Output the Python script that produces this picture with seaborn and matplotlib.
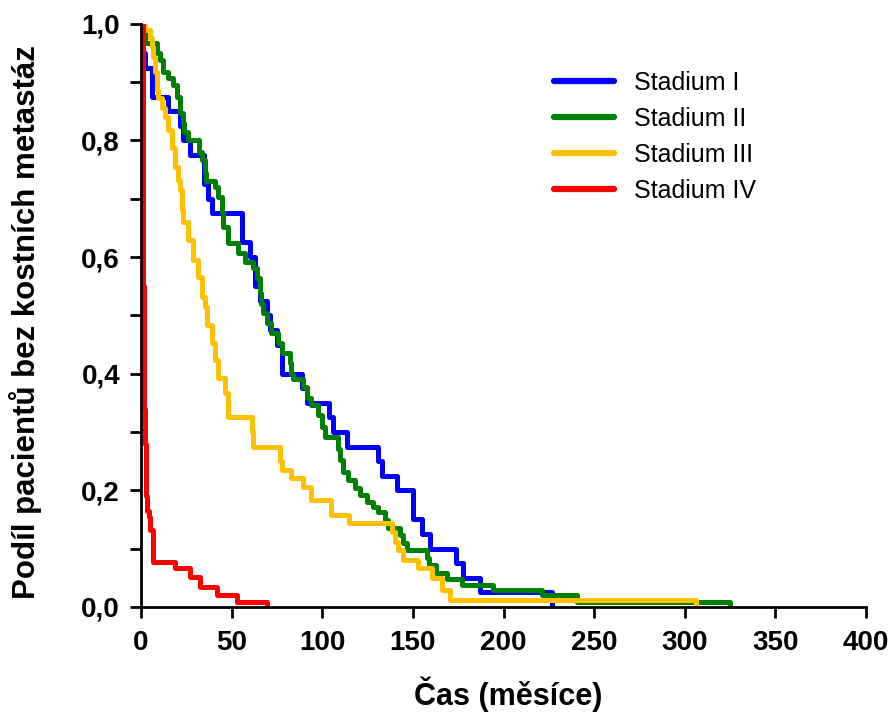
import pandas as pd
import seaborn as sns
import matplotlib.pyplot as plt

# Kaplan-Meier step data (cas = months, podil = fraction without bone metastases)
cas_I = [0, 1, 2, 6, 15, 21.5, 23, 27, 35, 37, 39, 56, 60, 63, 65.5, 69.5, 71, 75, 78, 89,
         91.5, 104, 106, 113.5, 131, 133, 141, 150, 155, 159.5, 174, 177.5, 187, 226.7]
podil_I = [1.0, 0.95, 0.925, 0.875, 0.85, 0.825, 0.8, 0.775, 0.725, 0.7, 0.675, 0.625, 0.6, 0.55,
           0.525, 0.5, 0.475, 0.45, 0.4, 0.375, 0.35, 0.325, 0.3, 0.275, 0.25, 0.225, 0.2, 0.15,
           0.125, 0.1, 0.075, 0.05, 0.025, 0.0]

cas_II = [0, 1, 2.5, 8.8, 10.5, 12, 15, 17.7, 19.8, 21.5, 23, 24, 26, 32, 33.6, 35.3, 36, 40.8,
          42.5, 44.7, 45.5, 48, 53.5, 57.4, 62, 64, 65.6, 66.5, 67.3, 69.5, 72, 75.6, 77.8, 82, 83,
          84, 89.4, 91.6, 94, 97.6, 99.6, 101.5, 108.7, 110, 111.5, 114, 118, 121, 124.7, 128,
          130.8, 134.6, 136, 143, 144.6, 146.8, 157.8, 159, 163, 169, 177, 194.4, 221, 240.5, 325]
podil_II = [1.0, 0.985, 0.967, 0.95, 0.938, 0.918, 0.907, 0.895, 0.875, 0.847, 0.83, 0.815, 0.8,
            0.78, 0.767, 0.745, 0.73, 0.72, 0.703, 0.678, 0.652, 0.624, 0.607, 0.592, 0.581, 0.564,
            0.539, 0.52, 0.504, 0.487, 0.47, 0.453, 0.436, 0.418, 0.4, 0.39, 0.377, 0.358, 0.346,
            0.329, 0.309, 0.292, 0.27, 0.252, 0.232, 0.218, 0.204, 0.192, 0.18, 0.172, 0.163, 0.149,
            0.135, 0.124, 0.11, 0.098, 0.083, 0.072, 0.058, 0.047, 0.038, 0.029, 0.021, 0.008, 0.0]

cas_III = [0, 2.5, 5, 6, 6.6, 7.7, 8.8, 9.4, 11.6, 13, 15, 17, 18.8, 20.4, 21.5, 22.6, 23.2, 26,
           28.7, 31.4, 33.6, 35.3, 36.4, 39, 40.8, 42.5, 46.3, 48, 61, 62, 76.7, 78, 83, 89.4, 94,
           105, 115, 138.5, 140, 142, 144.6, 152.8, 160.5, 166, 170.5, 306]
podil_III = [1.0, 0.99, 0.976, 0.96, 0.943, 0.918, 0.887, 0.873, 0.856, 0.84, 0.818, 0.787, 0.755,
             0.732, 0.715, 0.68, 0.66, 0.63, 0.595, 0.566, 0.532, 0.515, 0.484, 0.453, 0.424, 0.393,
             0.367, 0.326, 0.3, 0.274, 0.25, 0.235, 0.221, 0.206, 0.183, 0.158, 0.144, 0.129, 0.111,
             0.098, 0.081, 0.067, 0.05, 0.029, 0.012, 0.0]

cas_IV = [0, 1.0, 1.3, 1.6, 1.9, 2.2, 2.6, 3.0, 3.5, 4.2, 5, 6.6, 18.8, 27, 32.5, 42, 53, 69.5]
podil_IV = [1.0, 0.75, 0.55, 0.42, 0.34, 0.28, 0.23, 0.19, 0.165, 0.154, 0.132, 0.077, 0.067, 0.051,
            0.034, 0.021, 0.009, 0.0]

stadia = ['Stadium I', 'Stadium II', 'Stadium III', 'Stadium IV']
barvy = ['#0000FF', '#008000', '#FFC000', '#FF0000']

x_ticks = [0, 50, 100, 150, 200, 250, 300, 350, 400]
y_ticks = [0.0, 0.2, 0.4, 0.6, 0.8, 1.0]
y_labels = ['0,0', '0,2', '0,4', '0,6', '0,8', '1,0']

sns.set_style('ticks')
plt.rcParams['font.family'] = ['Liberation Sans', 'DejaVu Sans']
plt.rcParams['text.color'] = 'black'
plt.rcParams['axes.labelcolor'] = 'black'
plt.rcParams['xtick.color'] = 'black'
plt.rcParams['ytick.color'] = 'black'

frames = []
for name, t, p in zip(stadia, [cas_I, cas_II, cas_III, cas_IV],
                      [podil_I, podil_II, podil_III, podil_IV]):
    frames.append(pd.DataFrame({'cas': t, 'podil': p, 'stadium': name}))
df = pd.concat(frames, ignore_index=True)

fig = plt.figure(figsize=(8.92, 7.19), dpi=100)
ax = fig.add_axes([0.158, 0.156, 0.813, 0.8108])

sns.lineplot(data=df, x='cas', y='podil', hue='stadium', hue_order=stadia,
             palette=barvy, estimator=None, sort=False, drawstyle='steps-post',
             linewidth=3.6, ax=ax)

ax.set_xlim(0, 400)
ax.set_ylim(0, 1.0)
ax.set_xticks(x_ticks)
ax.set_xticklabels([str(v) for v in x_ticks])
ax.set_yticks(y_ticks)
ax.set_yticklabels(y_labels)
ax.set_yticks([0.1, 0.3, 0.5, 0.7, 0.9], minor=True)

for lab in ax.get_xticklabels() + ax.get_yticklabels():
    lab.set_fontweight('bold')
ax.tick_params(axis='both', which='both', direction='out', length=8, width=2,
               labelsize=20, color='black', labelcolor='black')
ax.tick_params(axis='x', pad=9)
ax.tick_params(axis='y', pad=7)

sns.despine(ax=ax)
for side in ['left', 'bottom']:
    ax.spines[side].set_linewidth(2)
    ax.spines[side].set_color('black')

ax.set_xlabel('Čas (měsíce)', fontsize=22, fontweight='bold')
ax.set_ylabel('Podíl pacientů bez kostních metastáz', fontsize=22.5, fontweight='bold')
ax.xaxis.set_label_coords(0.506, -0.12)
ax.yaxis.set_label_coords(-0.137, 0.489)

leg = ax.legend(loc='upper left', bbox_to_anchor=(0.57, 0.92), frameon=False,
                fontsize=18, handlelength=2.4, handletextpad=0.8, labelspacing=0.48,
                borderaxespad=0, borderpad=0)
for line in leg.get_lines():
    line.set_linewidth(4.5)

fig.savefig('out.png', dpi=100)
